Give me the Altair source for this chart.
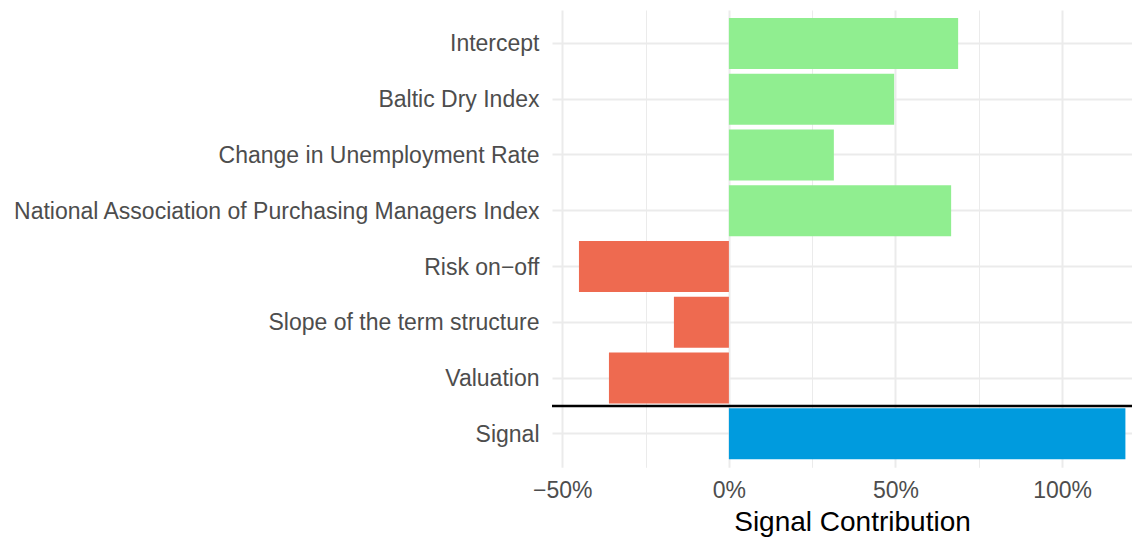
import altair as alt
import pandas as pd

categories = [
    "Intercept",
    "Baltic Dry Index",
    "Change in Unemployment Rate",
    "National Association of Purchasing Managers Index",
    "Risk on\u2212off",
    "Slope of the term structure",
    "Valuation",
    "Signal",
]
values = [0.688, 0.496, 0.315, 0.667, -0.450, -0.165, -0.360, 1.190]
groups = ["pos", "pos", "pos", "pos", "neg", "neg", "neg", "signal"]
tick_values = [-0.5, -0.25, 0.0, 0.25, 0.5, 0.75, 1.0]
divider_at = ["Signal"]

df = pd.DataFrame({"category": categories, "value": values, "group": groups})
df_line = pd.DataFrame({"category": divider_at})

FONT = "Liberation Sans"
major_test = "abs(datum.value * 2 - round(datum.value * 2)) < 0.001"

y_scale = alt.Scale(domain=categories, paddingInner=0.085, paddingOuter=0.1425)
x_scale = alt.Scale(domain=[-0.5309, 1.2098], nice=False, zero=False)

y_axis = alt.Axis(
    labelFont=FONT,
    labelFontSize=23,
    labelColor="#4D4D4D",
    labelPadding=13,
    labelLimit=1000,
    labelOffset=1,
    ticks=False,
    domain=False,
    grid=True,
    gridColor="#EBEBEB",
    gridWidth=2,
    bandPosition=0.5,
)

bars = alt.Chart(df).mark_bar().encode(
    y=alt.Y("category:N", sort=categories, scale=y_scale, title=None, axis=y_axis),
    x=alt.X(
        "value:Q",
        scale=x_scale,
        title="Signal Contribution",
        axis=alt.Axis(
            values=tick_values,
            labelExpr=f"({major_test}) ? format(datum.value, '.0%') : ''",
            labelFont=FONT,
            labelFontSize=23,
            labelColor="#4D4D4D",
            labelPadding=12,
            ticks=False,
            domain=False,
            grid=True,
            gridColor="#EBEBEB",
            gridWidth={"condition": {"test": major_test, "value": 2}, "value": 1},
            titleFont=FONT,
            titleFontSize=28,
            titleFontWeight="normal",
            titleColor="black",
            titleX=300,
            titleY=62.7,
            titleAlign="center",
            titleBaseline="alphabetic",
        ),
    ),
    x2=alt.datum(0),
    color=alt.Color(
        "group:N",
        scale=alt.Scale(domain=["pos", "neg", "signal"], range=["#90EE90", "#EE6A50", "#009BDE"]),
        legend=None,
    ),
)

divider = alt.Chart(df_line).mark_rule(color="black", strokeWidth=2.6, yOffset=-2.4).encode(
    y=alt.Y("category:N", sort=categories, scale=y_scale, title=None, axis=y_axis, bandPosition=0),
)

chart = (
    alt.layer(bars, divider)
    .properties(
        width=580,
        height=457.3,
        autosize=alt.AutoSizeParams(type="none"),
        padding={"left": 544, "top": 2, "right": 0, "bottom": 70.7},
    )
    .configure(background="white")
    .configure_view(stroke=None)
)

chart.save("out.html", embed_options={"renderer": "svg", "actions": False})
